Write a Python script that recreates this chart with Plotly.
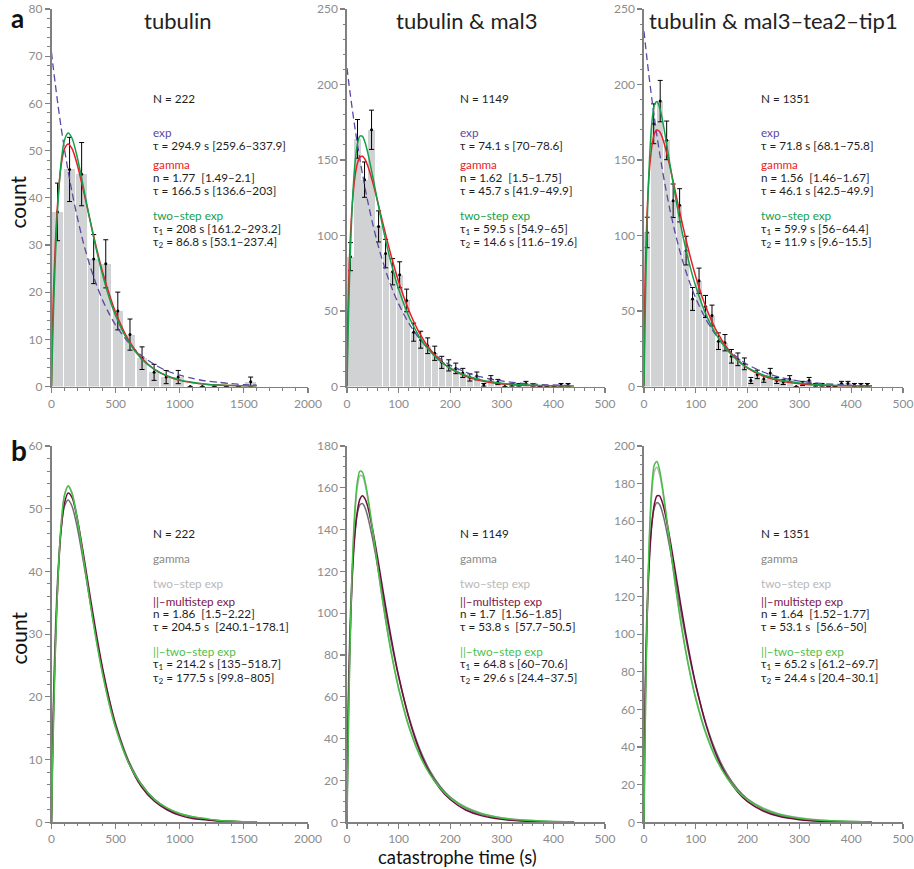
import plotly.graph_objects as go
from plotly.subplots import make_subplots

W, H = 914, 869

def fx(px):
    return px / W

def fy(py):
    return 1 - py / H

# ---------------- data ----------------
# tubulin
L_centers = [47, 141, 235, 329, 423, 517, 612, 706, 800, 894, 988, 1082, 1176, 1270, 1364, 1458, 1553]
L_counts = [37, 46, 45, 27, 26, 16, 11, 6, 3, 2, 2, 0, 0, 0, 0, 0, 1]
L_err = [6.1, 6.8, 6.7, 5.2, 5.1, 4.0, 3.3, 2.4, 1.7, 1.4, 1.4, 0, 0, 0, 0, 0, 1.0]
L_x = [0, 5, 15, 30, 50, 75, 100, 130, 160, 200, 250, 300, 350, 400, 450, 500, 600, 700, 800, 900,
       1000, 1100, 1200, 1300, 1400, 1500, 1600]
L_exp = [70.8, 69.6, 67.3, 64.0, 59.8, 54.9, 50.5, 45.6, 41.2, 36.0, 30.3, 25.6, 21.6, 18.2, 15.4, 13.0,
         9.3, 6.6, 4.7, 3.3, 2.4, 1.7, 1.2, 0.9, 0.6, 0.4, 0.3]
L_gamma = [0.0, 8.9, 19.5, 30.3, 39.8, 46.8, 50.3, 51.4, 50.4, 47.1, 41.4, 35.3, 29.4, 24.1, 19.6, 15.7,
           9.9, 6.1, 3.7, 2.2, 1.3, 0.8, 0.5, 0.3, 0.2, 0.1, 0.1]
L_two = [0.0, 5.6, 15.4, 27.2, 38.6, 47.5, 52.1, 53.7, 52.6, 48.7, 42.1, 35.3, 29.0, 23.5, 18.8, 15.0,
         9.5, 5.9, 3.7, 2.3, 1.4, 0.9, 0.5, 0.3, 0.2, 0.1, 0.1]
L_multi = [0.0, 7.1, 17.2, 28.3, 38.6, 46.6, 50.8, 52.5, 51.8, 48.5, 42.7, 36.2, 30.0, 24.4, 19.6, 15.5,
           9.6, 5.7, 3.4, 2.0, 1.1, 0.6, 0.4, 0.2, 0.1, 0.1, 0.0]
L_par = [0.0, 5.6, 15.4, 27.2, 38.6, 47.4, 52.0, 53.6, 52.4, 48.5, 42.0, 35.2, 28.9, 23.5, 18.9, 15.1,
         9.5, 6.0, 3.7, 2.3, 1.4, 0.9, 0.6, 0.3, 0.2, 0.1, 0.1]

# tubulin & mal3
M_centers = [6.8, 20.4, 34.0, 47.6, 61.2, 74.8, 88.4, 102.0, 115.6, 129.2, 142.8, 156.4, 170.0, 183.6,
             197.2, 210.8, 224.4, 238.0, 251.6, 265.2, 278.8, 292.4, 306.0, 319.6, 333.2, 346.8, 360.4,
             374.0, 387.6, 401.2, 414.8, 428.4]
M_counts = [86, 164, 137, 170, 106, 88, 76, 74, 57, 36, 31, 27, 22, 16, 14, 12, 9, 6, 7, 1, 5, 3, 0, 1,
            1, 2, 1, 0, 0, 0, 1, 1]
M_err = [9.3, 12.8, 11.7, 13.0, 10.3, 9.4, 8.7, 8.6, 7.5, 6.0, 5.6, 5.2, 4.7, 4.0, 3.7, 3.5, 3.0, 2.4,
         2.6, 1.0, 2.2, 1.7, 0, 1.0, 1.0, 1.4, 1.0, 0, 0, 0, 1.0, 1.0]
M_x = [0, 1, 3, 6, 10, 15, 20, 25, 30, 35, 40, 50, 60, 70, 80, 90, 100, 120, 140, 160, 180, 200, 230,
       260, 300, 340, 390, 440]
M_exp = [210.9, 208.1, 202.5, 194.5, 184.3, 172.2, 161.0, 150.5, 140.7, 131.5, 122.9, 107.4, 93.8, 82.0,
         71.6, 62.6, 54.7, 41.8, 31.9, 24.3, 18.6, 14.2, 9.5, 6.3, 3.7, 2.1, 1.1, 0.6]
M_gamma = [0.0, 34.9, 66.0, 95.1, 119.5, 137.8, 147.6, 151.9, 152.5, 150.4, 146.4, 135.1, 121.6, 107.5,
           93.8, 81.1, 69.5, 50.3, 35.7, 25.0, 17.4, 12.0, 6.8, 3.8, 1.7, 0.8, 0.3, 0.1]
M_two = [0.0, 17.2, 47.5, 83.9, 118.7, 145.9, 160.2, 165.8, 165.6, 161.6, 155.2, 138.9, 121.2, 104.4,
         89.3, 76.0, 64.5, 46.2, 33.1, 23.6, 16.9, 12.1, 7.3, 4.4, 2.2, 1.1, 0.5, 0.2]
M_multi = [0.0, 28.5, 58.7, 88.9, 115.8, 136.7, 148.7, 154.6, 156.2, 154.7, 151.1, 139.6, 125.5, 110.5,
           96.0, 82.4, 70.1, 49.8, 34.7, 23.8, 16.2, 10.9, 5.9, 3.2, 1.4, 0.6, 0.2, 0.1]
M_par = [0.0, 17.7, 48.7, 85.8, 121.2, 148.5, 162.7, 168.0, 167.5, 163.1, 156.4, 139.4, 121.4, 104.3,
         88.9, 75.5, 63.9, 45.6, 32.5, 23.2, 16.5, 11.7, 7.0, 4.2, 2.1, 1.1, 0.5, 0.2]

# tubulin & mal3-tea2-tip1
R_centers = [6.25, 18.75, 31.25, 43.75, 56.25, 68.75, 81.25, 93.75, 106.25, 118.75, 131.25, 143.75,
             156.25, 168.75, 181.25, 193.75, 206.25, 218.75, 231.25, 243.75, 256.25, 268.75, 281.25,
             293.75, 306.25, 318.75, 331.25, 343.75, 356.25, 368.75, 381.25, 393.75, 406.25, 418.75, 431.25]
R_counts = [102, 174, 189, 163, 123, 120, 90, 58, 70, 53, 47, 30, 29, 20, 18, 15, 4, 8, 5, 9, 4, 3, 5,
            0, 2, 4, 1, 1, 0, 0, 2, 2, 1, 1, 1]
R_err = [10.1, 13.2, 13.7, 12.8, 11.1, 11.0, 9.5, 7.6, 8.4, 7.3, 6.9, 5.5, 5.4, 4.5, 4.2, 3.9, 2.0, 2.8,
         2.2, 3.0, 2.0, 1.7, 2.2, 0, 1.4, 2.0, 1.0, 1.0, 0, 0, 1.4, 1.4, 1.0, 1.0, 1.0]
R_x = M_x
R_exp = [235.2, 231.9, 225.6, 216.3, 204.6, 190.9, 178.0, 166.0, 154.9, 144.5, 134.7, 117.2, 102.0, 88.7,
         77.2, 67.2, 58.4, 44.2, 33.5, 25.3, 19.2, 14.5, 9.6, 6.3, 3.6, 2.1, 1.0, 0.5]
R_gamma = [0.0, 47.2, 83.5, 115.4, 140.9, 158.6, 167.2, 169.9, 168.9, 165.2, 159.7, 145.7, 129.9, 114.0,
           98.9, 85.0, 72.6, 52.1, 36.8, 25.7, 17.8, 12.2, 6.9, 3.9, 1.8, 0.8, 0.3, 0.1]
R_two = [0.0, 22.5, 61.2, 105.8, 145.9, 174.1, 186.4, 188.7, 184.9, 177.6, 168.2, 147.4, 126.9, 108.4,
         92.1, 78.1, 66.2, 47.4, 34.0, 24.3, 17.4, 12.5, 7.6, 4.6, 2.4, 1.2, 0.5, 0.2]
R_multi = [0.0, 38.7, 74.7, 108.5, 137.1, 158.1, 169.1, 173.5, 173.5, 170.4, 165.1, 150.8, 134.2, 117.2,
           101.1, 86.3, 73.1, 51.5, 35.6, 24.3, 16.4, 11.0, 6.0, 3.2, 1.4, 0.6, 0.2, 0.1]
R_par = [0.0, 23.3, 63.2, 108.9, 149.7, 178.1, 190.0, 191.8, 187.4, 179.5, 169.7, 148.1, 127.1, 108.1,
         91.6, 77.5, 65.4, 46.6, 33.2, 23.7, 16.8, 12.0, 7.2, 4.3, 2.2, 1.1, 0.5, 0.2]

titles = ["tubulin", "tubulin & mal3", "tubulin & mal3\u2013tea2\u2013tip1"]
N_text = ["N = 222", "N = 1149", "N = 1351"]
exp_tau = ["\u03c4 = 294.9 s [259.6\u2013337.9]", "\u03c4 = 74.1 s [70\u201378.6]", "\u03c4 = 71.8 s [68.1\u201375.8]"]
gam_n = ["n = 1.77  [1.49\u20132.1]", "n = 1.62  [1.5\u20131.75]", "n = 1.56  [1.46\u20131.67]"]
gam_tau = ["\u03c4 = 166.5 s [136.6\u2013203]", "\u03c4 = 45.7 s [41.9\u201349.9]", "\u03c4 = 46.1 s [42.5\u201349.9]"]
two_t1 = ["= 208 s [161.2\u2013293.2]", "= 59.5 s [54.9\u201365]", "= 59.9 s [56\u201364.4]"]
two_t2 = ["= 86.8 s [53.1\u2013237.4]", "= 14.6 s [11.6\u201319.6]", "= 11.9 s [9.6\u201315.5]"]
mul_n = ["n = 1.86  [1.5\u20132.22]", "n = 1.7  [1.56\u20131.85]", "n = 1.64  [1.52\u20131.77]"]
mul_tau = ["\u03c4 = 204.5 s  [240.1\u2013178.1]", "\u03c4 = 53.8 s  [57.7\u201350.5]", "\u03c4 = 53.1 s  [56.6\u201350]"]
par_t1 = ["= 214.2 s [135\u2013518.7]", "= 64.8 s [60\u201370.6]", "= 65.2 s [61.2\u201369.7]"]
par_t2 = ["= 177.5 s [99.8\u2013805]", "= 29.6 s [24.4\u201337.5]", "= 24.4 s [20.4\u201330.1]"]

# ---------------- styling ----------------
FONT = "Lato"
C_BAR = "#d1d2d4"
C_EXP = "#5b48a6"
C_GAM = "#ec1c24"
C_TWO = "#14a04a"
C_GAM_B = "#6e6e6e"
C_TWO_B = "#b3b3b3"
C_MUL = "#6d0f3c"
C_PAR = "#45bf45"
C_TXT = "#1e1e1e"
C_AX = "#808080"
C_TICK = "#8c8c8c"

fig = make_subplots(rows=2, cols=3)

xdom = [(fx(51.5), fx(308)), (fx(347), fx(605)), (fx(644), fx(903))]
ydom_top = (fy(386.5), fy(9))
ydom_bot = (fy(822.3), fy(446))

panels = [
    (L_centers, L_counts, L_err, L_x, L_exp, L_gamma, L_two, L_multi, L_par, 94.1),
    (M_centers, M_counts, M_err, M_x, M_exp, M_gamma, M_two, M_multi, M_par, 13.6),
    (R_centers, R_counts, R_err, R_x, R_exp, R_gamma, R_two, R_multi, R_par, 12.5),
]

SM = 0.8
LW = 1.5
for c, (cen, cnt, err, xs, e, g, t, m, p, bw) in enumerate(panels, start=1):
    fig.add_trace(go.Bar(x=cen, y=cnt, width=bw * 0.88, marker=dict(color=C_BAR, line=dict(width=0)),
                         showlegend=False), row=1, col=c)
    fig.add_trace(go.Scatter(x=cen, y=cnt, mode="markers", marker=dict(color="black", size=3),
                             error_y=dict(type="data", array=err, visible=True, color="black",
                                          thickness=1, width=2.5),
                             showlegend=False), row=1, col=c)
    fig.add_trace(go.Scatter(x=xs, y=e, mode="lines", line=dict(color=C_EXP, width=1.3, dash="7px,4px",
                             shape="spline", smoothing=SM), showlegend=False), row=1, col=c)
    fig.add_trace(go.Scatter(x=xs, y=g, mode="lines", line=dict(color=C_GAM, width=LW,
                             shape="spline", smoothing=SM), showlegend=False), row=1, col=c)
    fig.add_trace(go.Scatter(x=xs, y=t, mode="lines", line=dict(color=C_TWO, width=LW,
                             shape="spline", smoothing=SM), showlegend=False), row=1, col=c)
    # bottom row
    fig.add_trace(go.Scatter(x=xs, y=t, mode="lines", line=dict(color=C_TWO_B, width=LW,
                             shape="spline", smoothing=SM), showlegend=False), row=2, col=c)
    fig.add_trace(go.Scatter(x=xs, y=g, mode="lines", line=dict(color=C_GAM_B, width=LW,
                             shape="spline", smoothing=SM), showlegend=False), row=2, col=c)
    fig.add_trace(go.Scatter(x=xs, y=m, mode="lines", line=dict(color=C_MUL, width=LW,
                             shape="spline", smoothing=SM), showlegend=False), row=2, col=c)
    fig.add_trace(go.Scatter(x=xs, y=p, mode="lines", line=dict(color=C_PAR, width=LW,
                             shape="spline", smoothing=SM), showlegend=False), row=2, col=c)

xranges = [(0, 2000, 500, 100), (0, 500, 100, 20), (0, 500, 100, 20)]
yr_top = [(0, 80, 10, 2), (0, 250, 50, 10), (0, 250, 50, 10)]
yr_bot = [(0, 60, 10, 2), (0, 180, 20, 5), (0, 200, 20, 5)]

def axstyle(rng, dt, mdt):
    return dict(range=list(rng), dtick=dt, tick0=0, showgrid=False, zeroline=False, showline=True,
                linecolor=C_AX, linewidth=1.6, ticks="outside", ticklen=5, tickwidth=1.2,
                tickcolor=C_AX, tickfont=dict(family=FONT, size=12, color=C_TICK),
                minor=dict(ticks="outside", dtick=mdt, tick0=0, ticklen=2.5, tickwidth=1, tickcolor=C_AX),
                fixedrange=True, automargin=False)

for c in range(1, 4):
    x0, x1, dt, mdt = xranges[c - 1]
    for r in (1, 2):
        fig.update_xaxes(domain=list(xdom[c - 1]), **axstyle((x0, x1), dt, mdt), row=r, col=c)
    a, b, dt, mdt = yr_top[c - 1]
    fig.update_yaxes(domain=list(ydom_top), **axstyle((a, b), dt, mdt), row=1, col=c)
    a, b, dt, mdt = yr_bot[c - 1]
    fig.update_yaxes(domain=list(ydom_bot), **axstyle((a, b), dt, mdt), row=2, col=c)

ann = []

def txt(px, py, s, color=C_TXT, size=11.7, anchor="left", bold=False, angle=0, family=FONT, vanchor="middle"):
    ann.append(dict(x=fx(px), y=fy(py), xref="paper", yref="paper", text=("<b>%s</b>" % s) if bold else s,
                    showarrow=False, xanchor=anchor, yanchor=vanchor, textangle=angle,
                    font=dict(family=family, size=size, color=color)))

# titles
for cx, s in zip([178, 467, 773], titles):
    txt(cx, 20, s, color="#222222", size=22, anchor="center")

txt(17.5, 0, "a", color="#111111", size=26, anchor="center", bold=True, vanchor="top")
txt(18.5, 450, "b", color="#111111", size=28, anchor="center", bold=True)
txt(16.5, 202, "count", color="#111111", size=21, anchor="center", angle=-90)
txt(17.5, 638, "count", color="#111111", size=21, anchor="center", angle=-90)
txt(457, 856.5, "catastrophe time (s)", color="#111111", size=18.5, anchor="center")

tx = [151, 457.5, 759]
for i in range(3):
    x = tx[i]
    # top row
    txt(x, 98, N_text[i])
    txt(x, 132, "exp", color=C_EXP)
    txt(x, 145.5, exp_tau[i])
    txt(x, 164, "gamma", color=C_GAM)
    txt(x, 177, gam_n[i])
    txt(x, 190, gam_tau[i])
    txt(x, 215, "two\u2013step exp", color=C_TWO)
    txt(x, 228.5, "\u03c4<sub>1</sub> " + two_t1[i])
    txt(x, 242, "\u03c4<sub>2</sub> " + two_t2[i])
    # bottom row
    txt(x, 533, N_text[i])
    txt(x, 558, "gamma", color="#8a8a8a")
    txt(x, 583, "two\u2013step exp", color="#b8b8b8")
    txt(x, 601, "||\u2013multistep exp", color="#7a1446")
    txt(x, 613, mul_n[i])
    txt(x, 626, mul_tau[i])
    txt(x, 651, "||\u2013two\u2013step exp", color="#4cc04c")
    txt(x, 664, "\u03c4<sub>1</sub> " + par_t1[i])
    txt(x, 678, "\u03c4<sub>2</sub> " + par_t2[i])

fig.update_layout(width=W, height=H, margin=dict(l=0, r=0, t=0, b=0, autoexpand=False), plot_bgcolor="white",
                  paper_bgcolor="white", bargap=0, showlegend=False, annotations=ann,
                  font=dict(family=FONT), hovermode=False)

fig.write_html("out.html", config={"displayModeBar": False, "staticPlot": True},
               post_script="document.body.style.margin='0';document.body.style.overflow='hidden';")
